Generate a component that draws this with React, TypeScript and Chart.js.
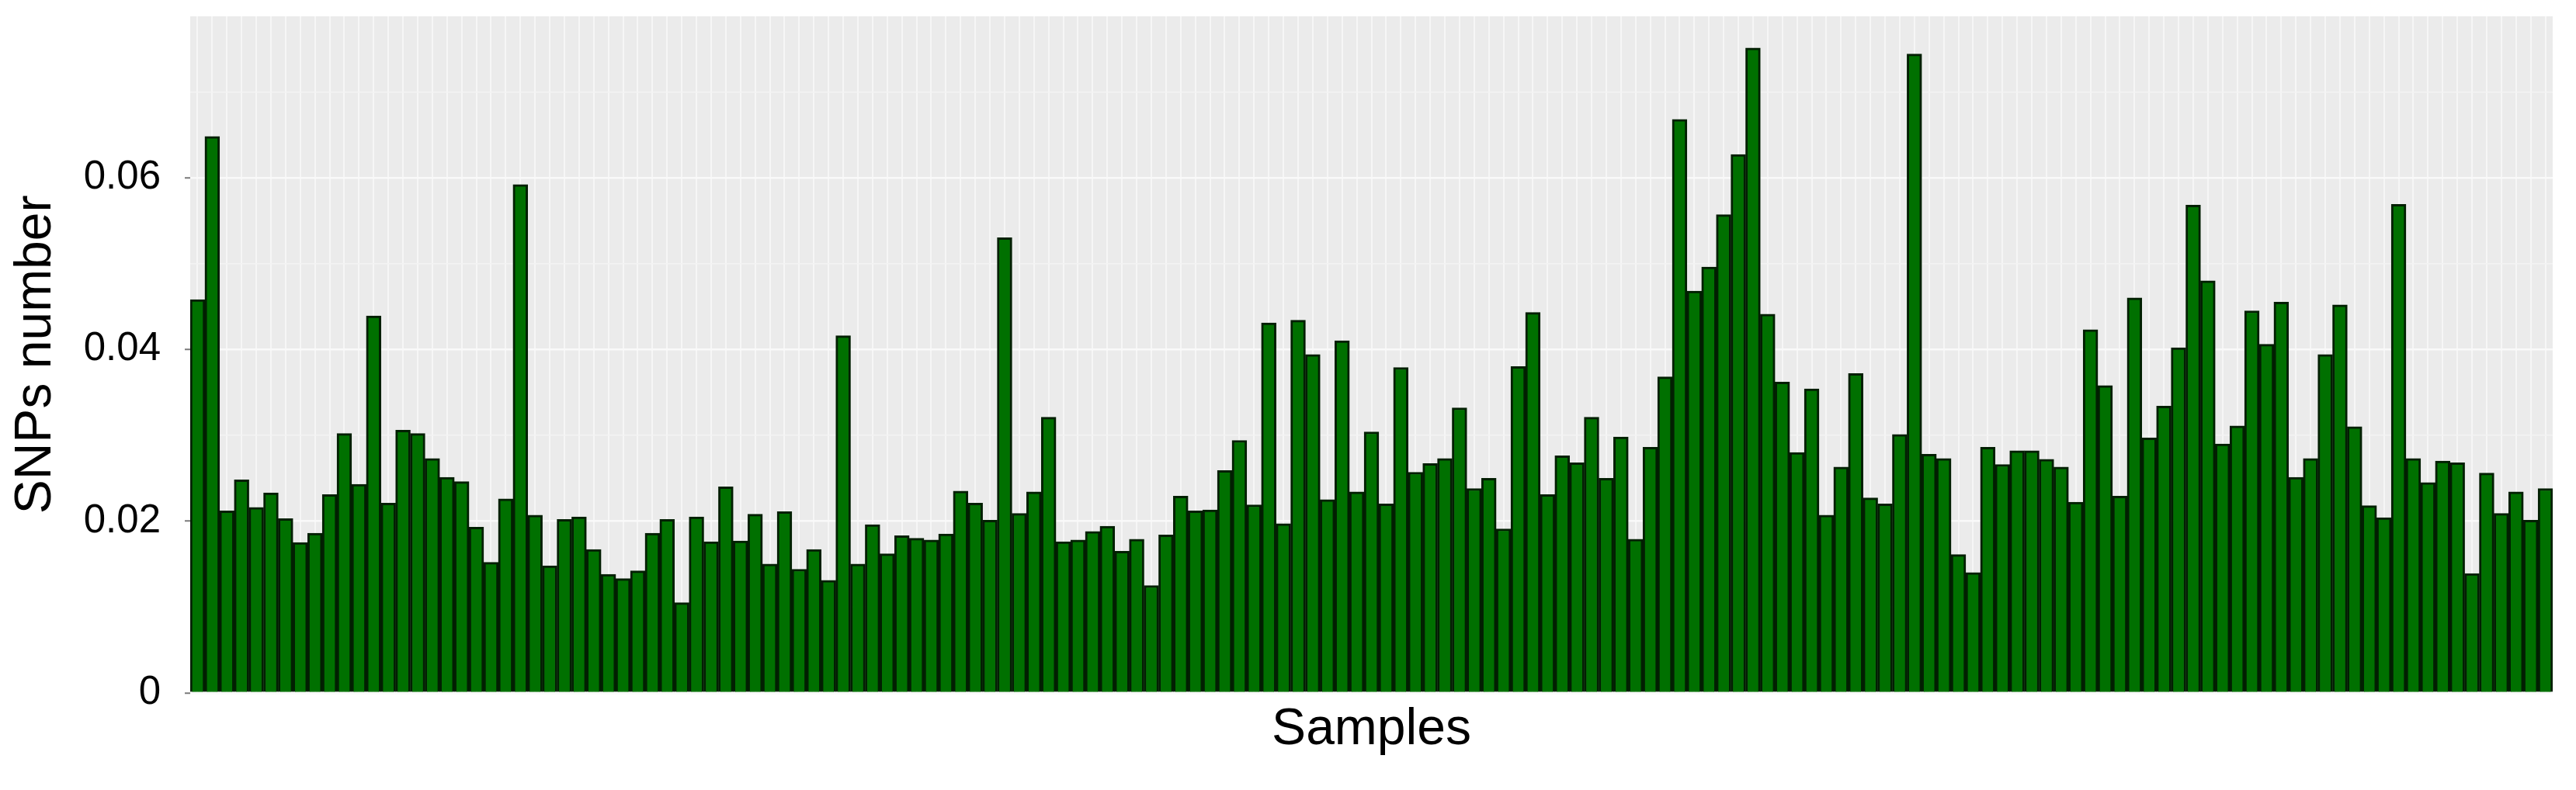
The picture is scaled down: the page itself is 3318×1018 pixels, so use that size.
import React, { useEffect, useRef } from "react";
import { Chart, registerables } from "chart.js";

Chart.register(...registerables);

// SNP fraction per sample (161 samples)
const snpValues: number[] = [
  0.0458, 0.0648, 0.0212, 0.0248, 0.0216, 0.0233, 0.0203, 0.0175, 0.0186, 0.0231,
  0.0302, 0.0243, 0.0439, 0.0221, 0.0306, 0.0302, 0.0273, 0.0251, 0.0246, 0.0193,
  0.0152, 0.0226, 0.0592, 0.0207, 0.0148, 0.0202, 0.0205, 0.0167, 0.0138, 0.0133,
  0.0142, 0.0186, 0.0202, 0.0105, 0.0205, 0.0176, 0.0240, 0.0177, 0.0208, 0.0150,
  0.0211, 0.0144, 0.0167, 0.0131, 0.0416, 0.0150, 0.0196, 0.0162, 0.0183, 0.0180,
  0.0178, 0.0185, 0.0235, 0.0221, 0.0201, 0.0530, 0.0209, 0.0234, 0.0321, 0.0176,
  0.0178, 0.0188, 0.0194, 0.0165, 0.0179, 0.0125, 0.0184, 0.0229, 0.0212, 0.0213,
  0.0259, 0.0294, 0.0219, 0.0431, 0.0197, 0.0434, 0.0394, 0.0225, 0.0410, 0.0234,
  0.0304, 0.0220, 0.0379, 0.0257, 0.0267, 0.0273, 0.0332, 0.0238, 0.0250, 0.0191,
  0.0380, 0.0443, 0.0231, 0.0276, 0.0268, 0.0321, 0.0250, 0.0298, 0.0179, 0.0286,
  0.0368, 0.0668, 0.0468, 0.0496, 0.0557, 0.0627, 0.0751, 0.0441, 0.0362, 0.0280,
  0.0354, 0.0207, 0.0263, 0.0372, 0.0227, 0.0220, 0.0301, 0.0744, 0.0278, 0.0273,
  0.0161, 0.0140, 0.0286, 0.0266, 0.0282, 0.0282, 0.0272, 0.0263, 0.0222, 0.0423,
  0.0358, 0.0229, 0.0460, 0.0297, 0.0334, 0.0402, 0.0568, 0.0480, 0.0290, 0.0311,
  0.0445, 0.0406, 0.0455, 0.0251, 0.0273, 0.0394, 0.0452, 0.0310, 0.0218, 0.0204,
  0.0569, 0.0273, 0.0245, 0.0270, 0.0268, 0.0139, 0.0256, 0.0209, 0.0234, 0.0201,
  0.0238,
];

// Sample identifiers (not shown on the axis in the reference)
const sampleLabels: string[] = snpValues.map((_, i) => `Sample ${i + 1}`);

// Y axis range and labelled ticks
const yMin = 0;
const yMax = 0.0788;
const yStep = 0.01;
const yLabelledTicks: number[] = [0, 0.02, 0.04, 0.06];

const xTitle = "Samples";
const yTitle = "SNPs number";

const FONT = "'Liberation Sans', Arial, Helvetica, sans-serif";

const panelBackground = {
  id: "panelBackground",
  beforeDraw(chart: any) {
    const { ctx, chartArea } = chart;
    if (!chartArea) return;
    ctx.save();
    ctx.fillStyle = "#ebebeb";
    ctx.fillRect(chartArea.left, chartArea.top, chartArea.right - chartArea.left, chartArea.bottom - chartArea.top);
    ctx.restore();
  },
};

const isLabelled = (v: number) => yLabelledTicks.some((t) => Math.abs(t - v) < 1e-9);

export default function App() {
  const canvasRef = useRef<HTMLCanvasElement | null>(null);

  useEffect(() => {
    document.body.style.margin = "0";
    const canvas = canvasRef.current;
    if (!canvas) return;
    const chart = new Chart(canvas, {
      type: "bar",
      data: {
        labels: sampleLabels,
        datasets: [
          {
            label: yTitle,
            data: snpValues,
            backgroundColor: "#007000",
            borderColor: "#021f02",
            borderWidth: 3,
            borderSkipped: "start",
            categoryPercentage: 1,
            barPercentage: 1,
          },
        ],
      },
      options: {
        animation: false,
        responsive: false,
        devicePixelRatio: 1,
        layout: { padding: { top: 21, right: 30, bottom: 0, left: 0 } },
        plugins: {
          legend: { display: false },
          tooltip: { enabled: false },
        },
        scales: {
          x: {
            type: "category",
            offset: true,
            border: { display: false },
            grid: {
              display: true,
              offset: false,
              drawTicks: false,
              color: "#f6f6f6",
              lineWidth: 2,
            },
            ticks: { display: false },
            title: {
              display: true,
              text: xTitle,
              color: "#000",
              font: { family: FONT, size: 66 },
              padding: { top: 8, bottom: 38 },
            },
            afterFit(scale: any) {
              scale.paddingLeft = 0;
              scale.paddingRight = 0;
            },
          },
          y: {
            type: "linear",
            min: yMin,
            max: yMax,
            border: { display: false },
            grid: {
              display: true,
              drawTicks: true,
              tickLength: 7,
              color: (ctx: any) => (isLabelled(ctx.tick?.value ?? -1) ? "#f9f9f9" : "#f3f3f3"),
              lineWidth: (ctx: any) => (isLabelled(ctx.tick?.value ?? -1) ? 2.5 : 1.5),
              tickColor: (ctx: any) => (isLabelled(ctx.tick?.value ?? -1) ? "#7a7a7a" : "rgba(0,0,0,0)"),
              tickWidth: 2,
            },
            ticks: {
              stepSize: yStep,
              includeBounds: false,
              autoSkip: false,
              padding: 31,
              color: "#000",
              font: { family: FONT, size: 51 },
              callback: (value: any) => {
                const v = Number(value);
                if (!isLabelled(v)) return "";
                return v === 0 ? "0" : v.toFixed(2);
              },
            },
            title: {
              display: true,
              text: yTitle,
              color: "#000",
              font: { family: FONT, size: 66 },
              padding: { top: 7, bottom: 0 },
            },
            afterFit(scale: any) {
              scale.width = 245;
              scale.paddingTop = 0;
              scale.paddingBottom = 0;
            },
          },
        },
      },
      plugins: [panelBackground],
    } as any);
    return () => chart.destroy();
  }, []);

  return (
    <div style={{ position: "absolute", left: 0, top: 0, width: 3318, height: 1018, background: "#fff" }}>
      <canvas ref={canvasRef} width={3318} height={1018} style={{ width: 3318, height: 1018, display: "block" }} />
    </div>
  );
}
